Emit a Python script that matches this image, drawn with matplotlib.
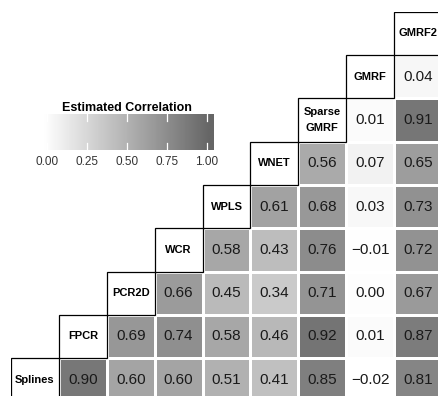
import numpy as np
import matplotlib
matplotlib.use("Agg")
import matplotlib.pyplot as plt
from matplotlib.colors import LinearSegmentedColormap, Normalize
from matplotlib.patches import Rectangle

plt.rcParams['font.family'] = ['Liberation Sans', 'DejaVu Sans']

methods = ["Splines", "FPCR", "PCR2D", "WCR", "WPLS", "WNET", "Sparse\nGMRF", "GMRF", "GMRF2"]
# correlations of each method with the methods to its right (upper triangle)
corr_splines = [0.90, 0.60, 0.60, 0.51, 0.41, 0.85, -0.02, 0.81]
corr_fpcr = [0.69, 0.74, 0.58, 0.46, 0.92, 0.01, 0.87]
corr_pcr2d = [0.66, 0.45, 0.34, 0.71, 0.00, 0.67]
corr_wcr = [0.58, 0.43, 0.76, -0.01, 0.72]
corr_wpls = [0.61, 0.68, 0.03, 0.73]
corr_wnet = [0.56, 0.07, 0.65]
corr_sgmrf = [0.01, 0.91]
corr_gmrf = [0.04]
rows = [corr_splines, corr_fpcr, corr_pcr2d, corr_wcr, corr_wpls, corr_wnet, corr_sgmrf, corr_gmrf, []]

cbar_ticks = [0.00, 0.25, 0.50, 0.75, 1.00]

n = len(methods)
M = np.full((n, n), np.nan)
for i, r in enumerate(rows):
    for k, v in enumerate(r):
        M[i, i + 1 + k] = v
Mm = np.ma.masked_invalid(M)

cmap = LinearSegmentedColormap.from_list("g", ["white", "#666666"])
cmap.set_under("white")
norm = Normalize(vmin=-0.02, vmax=1.02)

fig = plt.figure(figsize=(4.38, 3.96), dpi=100)
ax = fig.add_axes([11/438, 1 - 401.4/396, 431/438, 389.7/396])
ax.pcolormesh(np.arange(n + 1), np.arange(n + 1), Mm, cmap=cmap, norm=norm,
              edgecolors="white", linewidth=0.8)
for i in range(n):
    for j in range(i + 1, n):
        v = M[i, j]
        s = f"{v:.2f}".replace("-", "\u2212")
        ax.text(j + 0.5, i + 0.5, s, ha="center", va="center", fontsize=11, color="#1a1a1a")
    ax.add_patch(Rectangle((i, i), 1, 1, facecolor="white", edgecolor="black", linewidth=0.9, zorder=3))
    ax.text(i + 0.5, i + 0.5, methods[i], ha="center", va="center", fontsize=8,
            fontweight="bold", zorder=4, linespacing=1.65)
ax.set_xlim(0, n)
ax.set_ylim(0, n)
ax.axis("off")

# colorbar legend
cax = fig.add_axes([40/438, 1 - 150/396, 174/438, 36/396])
lo, hi = -0.045, 1.046
grad = np.linspace(lo, hi, 300).reshape(1, -1)
cax.imshow(grad, cmap=cmap, norm=norm, aspect="auto", extent=[lo, hi, 0, 1])
for t in cbar_ticks:
    cax.plot([t, t], [0, 0.2], color="white", lw=0.9)
    cax.plot([t, t], [0.8, 1], color="white", lw=0.9)
cax.set_xlim(lo, hi)
cax.set_ylim(0, 1)
cax.set_xticks(cbar_ticks)
cax.set_xticklabels([f"{t:.2f}" for t in cbar_ticks], fontsize=8.5, color="#333333")
cax.tick_params(axis="x", length=0, pad=4)
cax.set_yticks([])
for s in cax.spines.values():
    s.set_visible(False)
cax.set_title("Estimated Correlation", fontsize=9, fontweight="bold", pad=2)

fig.savefig("out.png", dpi=100)
